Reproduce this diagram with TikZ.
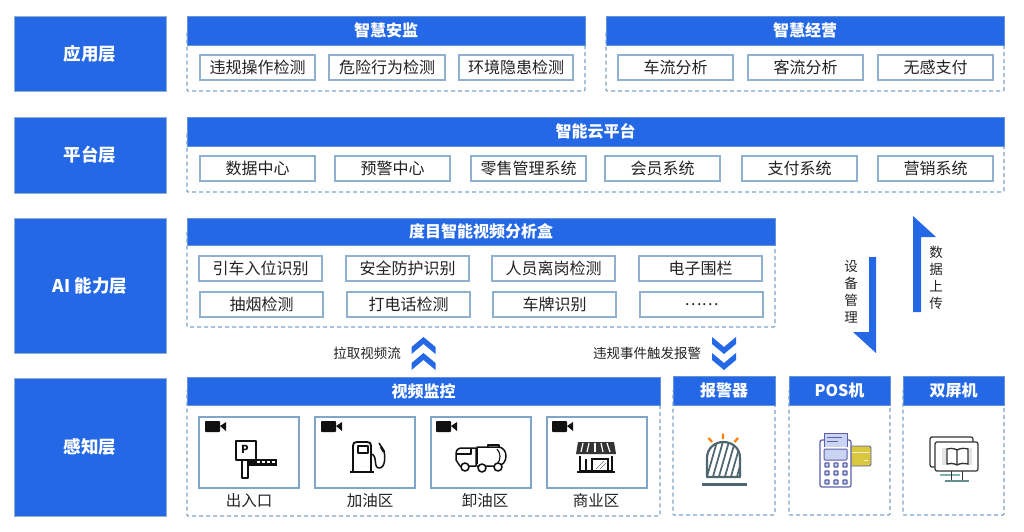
\documentclass[tikz,border=0pt]{standalone}
\usepackage{fontspec}
\setmainfont{Noto Sans CJK SC}
\definecolor{hdr}{HTML}{2468E6}
\definecolor{edge}{HTML}{8FB0CF}
\definecolor{dash}{HTML}{7BA3C8}
\definecolor{txt}{HTML}{222222}
\definecolor{ink}{HTML}{101010}
\definecolor{slate}{HTML}{4F6670}
\definecolor{posv}{HTML}{5A5FA8}
\definecolor{posf}{HTML}{C9D3F2}
\definecolor{cardy}{HTML}{D8C83E}
\definecolor{camedge}{HTML}{7FA5C8}
\tikzset{
  boxbase/.style={shape=rectangle,inner sep=0pt,outer sep=0pt},
  layerbox/.style={boxbase,fill=hdr,draw=edge,line width=.7pt,text=white,font=\fontsize{17.5}{20}\selectfont\bfseries},
  headbox/.style={boxbase,fill=hdr,draw=edge!60!hdr,line width=.5pt,text=white,font=\fontsize{16}{18}\selectfont\bfseries},
  panelbox/.style={boxbase,draw=dash,line width=1.2pt,dash pattern=on 4pt off 3pt,rounded corners=1pt},
  itembox/.style={boxbase,fill=white,draw=edge,line width=1.2pt,text=txt,font=\fontsize{16}{18}\selectfont},
  cambox/.style={boxbase,fill=white,draw=camedge,line width=1.1pt},
  caption/.style={text=txt,inner sep=0pt,font=\fontsize{15.5}{18}\selectfont},
  flowlabel/.style={text=txt,inner sep=0pt,font=\fontsize{13.5}{16}\selectfont},
  vlabel/.style={text=txt,inner sep=0pt,align=center,font=\fontsize{13.5}{17}\selectfont},
  icon/.style={draw=ink,line width=1.9pt,line join=round}
}
% #1 style, #2 name, #3 x1, #4 y1, #5 x2, #6 y2, #7 text
\newcommand\rbox[7]{%
  \pgfmathsetmacro\cxx{(#3+#5)/2}\pgfmathsetmacro\cyy{(#4+#6)/2}%
  \pgfmathsetmacro\ww{#5-#3}\pgfmathsetmacro\hh{#6-#4}%
  \node[#1,minimum width=\ww pt,minimum height=\hh pt] (#2) at (\cxx,\cyy) {#7};}
\newcommand\camicon[2]{%
  \fill[ink,rounded corners=.8pt] (#1,#2) rectangle ++(15,11);
  \fill[ink] (#1+15,#2+5) -- (#1+21,#2+1) -- (#1+21,#2+10) -- cycle;}
\newcommand\chevup[2]{\fill[hdr] (#1,#2+10) -- (#1+12,#2) -- (#1+24,#2+10) -- (#1+24,#2+17) -- (#1+12,#2+7) -- (#1,#2+17) -- cycle;}
\newcommand\chevdown[2]{\fill[hdr] (#1,#2) -- (#1+12,#2+10) -- (#1+24,#2) -- (#1+24,#2+7) -- (#1+12,#2+17) -- (#1,#2+7) -- cycle;}
\begin{document}
\begin{tikzpicture}[x=1pt,y=-1pt]
\useasboundingbox (0,0) rectangle (1024,532);
% left layers
\rbox{layerbox}{l1}{14}{16}{166}{91}{应用层}
\rbox{layerbox}{l2}{14}{117}{166}{193}{平台层}
\rbox{layerbox}{l3}{14}{218}{166}{353}{AI 能力层}
\rbox{layerbox}{l4}{14}{378}{166}{516}{感知层}
% application
\rbox{panelbox}{p1}{187}{30}{585}{91}{}
\rbox{headbox}{h1}{187}{16}{585}{45}{智慧安监}
\rbox{itembox}{a1}{200}{55}{315}{80}{违规操作检测}
\rbox{itembox}{a2}{329}{55}{445}{80}{危险行为检测}
\rbox{itembox}{a3}{459}{55}{573}{80}{环境隐患检测}
\rbox{panelbox}{p2}{606}{30}{1004}{91}{}
\rbox{headbox}{h2}{606}{16}{1004}{45}{智慧经营}
\rbox{itembox}{a4}{618}{55}{733}{80}{车流分析}
\rbox{itembox}{a5}{748}{55}{863}{80}{客流分析}
\rbox{itembox}{a6}{878}{55}{993}{80}{无感支付}
% platform
\rbox{panelbox}{p3}{187}{130}{1004}{192}{}
\rbox{headbox}{h3}{187}{117}{1004}{146}{智能云平台}
\rbox{itembox}{b1}{200}{156}{315}{181}{数据中心}
\rbox{itembox}{b2}{335}{156}{450}{181}{预警中心}
\rbox{itembox}{b3}{471}{156}{586}{181}{零售管理系统}
\rbox{itembox}{b4}{605}{156}{720}{181}{会员系统}
\rbox{itembox}{b5}{742}{156}{857}{181}{支付系统}
\rbox{itembox}{b6}{878}{156}{993}{181}{营销系统}
% AI
\rbox{panelbox}{p4}{187}{230}{775}{327}{}
\rbox{headbox}{h4}{187}{218}{775}{245}{度目智能视频分析盒}
\rbox{itembox}{c1}{199}{256}{322}{281}{引车入位识别}
\rbox{itembox}{c2}{346}{256}{469}{281}{安全防护识别}
\rbox{itembox}{c3}{492}{256}{615}{281}{人员离岗检测}
\rbox{itembox}{c4}{639}{256}{762}{281}{电子围栏}
\rbox{itembox}{c5}{200}{292}{323}{317}{抽烟检测}
\rbox{itembox}{c6}{347}{292}{470}{317}{打电话检测}
\rbox{itembox}{c7}{493}{292}{616}{317}{车牌识别}
\rbox{itembox}{c8}{640}{292}{763}{317}{……}
% flow labels and chevrons
\node[flowlabel] (f1) at (367,353) {拉取视频流};
\chevup{411.5}{337}\chevup{411.5}{353}
\node[flowlabel] (f2) at (647,353) {违规事件触发报警};
\chevdown{712}{337}\chevdown{712}{353}
% side arrows
\fill[hdr] (869,257) -- (876,257) -- (876,353) -- (853,332) -- (869,332) -- cycle;
\fill[hdr] (913,312) -- (921,312) -- (921,237) -- (936,237) -- (913,216) -- cycle;
\node[vlabel] (v1) at (851,292) {设\\备\\管\\理};
\node[vlabel] (v2) at (936,278) {数\\据\\上\\传};
% perception
\rbox{panelbox}{p5}{187}{390}{660}{516}{}
\rbox{headbox}{h5}{187}{377}{660}{405}{视频监控}
\rbox{cambox}{k1}{199}{417}{299}{488}{}
\rbox{cambox}{k2}{315}{417}{415}{488}{}
\rbox{cambox}{k3}{431}{417}{531}{488}{}
\rbox{cambox}{k4}{547}{417}{647}{488}{}
\camicon{205}{421}\camicon{321}{421}\camicon{436}{421}\camicon{552}{421}
\node[caption] (t1) at (249,501) {出入口};
\node[caption] (t2) at (370,501) {加油区};
\node[caption] (t3) at (485,501) {卸油区};
\node[caption] (t4) at (596,501) {商业区};
\rbox{panelbox}{p6}{673}{390}{775}{515}{}
\rbox{headbox}{h6}{673}{376}{775}{405}{报警器}
\rbox{panelbox}{p7}{789}{390}{890}{515}{}
\rbox{headbox}{h7}{789}{376}{890}{405}{POS机}
\rbox{panelbox}{p8}{903}{390}{1004}{515}{}
\rbox{headbox}{h8}{903}{376}{1004}{405}{双屏机}
% parking barrier
\draw[icon] (236,441) rectangle (256,460);
\draw[icon] (242,460) rectangle (248,478);
\node[inner sep=0pt,text=ink,font=\fontsize{11}{11}\selectfont\bfseries] (pk) at (245,449) {P};
\fill[ink] (248,459) rectangle (277,465.5);
\foreach \bx in {257,262,267,272}{\fill[white] (\bx,461) rectangle +(2.6,2.2);}
% fuel pump
\draw[icon] (353,472) -- (353,446) .. controls (353,443) and (354,442) .. (357,442) -- (367,442) .. controls (370,442) and (371,443) .. (371,446) -- (371,472);
\draw[icon] (350,472) -- (374,472);
\draw[icon,line width=1.5pt] (358,446) rectangle (368,453);
\draw[icon,line width=1.5pt] (371,454) .. controls (378,455) and (373,468) .. (379,468) .. controls (386,468) and (385,455) .. (384,451) -- (379,443);
\draw[icon,line width=2.4pt] (381,447) -- (384,452);
% tanker truck
\draw[icon,line width=1.5pt] (476,466) -- (460,466) -- (456,460) -- (456,454) .. controls (456,450) and (458,448) .. (462,448) -- (476,448) -- cycle;
\draw[icon,line width=1.4pt] (457,454) -- (471,454) -- (471,449);
\draw[icon,line width=1.5pt] (477,464) -- (477,447) -- (497,447) .. controls (509,446) and (509,466) .. (497,466) -- (477,466);
\draw[icon,line width=1.4pt] (488,447) -- (488,445) -- (499,445) -- (499,447);
\draw[icon,line width=1.1pt] (497,449) .. controls (501,453) and (501,460) .. (497,464);
\foreach \wx/\wy in {465/467,482/468,498/467}{\draw[icon,fill=white,line width=1.6pt] (\wx,\wy) circle (4);}
% shop
\draw[icon,line width=1.4pt] (580,456) -- (580,471) -- (612,471) -- (612,456);
\draw[icon,line width=2pt] (577,472) -- (615,472);
\fill[ink!85] (578,442) -- (614,442) -- (616,454) -- (576,454) -- cycle;
\foreach \sa/\sb in {583/581,589/587,595/595,601/603,607/610}{\draw[white,line width=1.2pt] (\sa,443) -- (\sb,452);}
\draw[ink,line width=1.1pt] (586,459) -- (586,471) (592,459) rectangle (608,471);
\draw[ink!60,line width=.6pt] (596,469) -- (604,461) (600,469) -- (606,463);
% alarm
\begin{scope}
\clip (707,477) -- (707,458) .. controls (707,448) and (715,442) .. (723.5,442) .. controls (732,442) and (740,448) .. (740,458) -- (740,477) -- cycle;
\foreach \hx in {700,706,...,756}{\draw[slate,line width=1.7pt] (\hx,480) -- (\hx+12,438);}
\end{scope}
\draw[slate,line width=2.2pt,line join=round] (707,477) -- (707,458) .. controls (707,448) and (715,442) .. (723.5,442) .. controls (732,442) and (740,448) .. (740,458) -- (740,477) -- cycle;
\draw[slate,line width=3pt] (702,484) -- (747,484);
\draw[orange,line width=2.3pt] (723,433.5) -- (723,439) (708.5,438) -- (712,442) (738,438) -- (734.5,442);
% POS
\draw[rounded corners=1.5pt,fill=cardy,draw=posv,line width=.9pt] (848,446) rectangle (871,466);
\draw[white!70!cardy,line width=.9pt] (851,452) -- (870,452) (864,460) -- (868,460);
\draw[posv,fill=white,line width=1.2pt,rounded corners=2pt] (820,440) rectangle (851,487);
\draw[posv,fill=posf,line width=1pt] (824,447) -- (824,433) -- (847,433) -- (847,447);
\draw[posv,line width=.7pt] (827,437) -- (842,437) (827,441) -- (838,441);
\draw[posv,fill=posf,line width=1pt,rounded corners=1pt] (824,449) rectangle (847,460);
\foreach \kx in {827,836,845}{\foreach \ky in {465,473,482}{\draw[posv,fill=posf,line width=1.1pt,rounded corners=.5pt] (\kx-2,\ky-2) rectangle (\kx+2,\ky+2);}}
% dual screen
\definecolor{scr}{HTML}{333333}\definecolor{tealb}{HTML}{7FB3B0}
\draw[scr,fill=white,line width=1.2pt,rounded corners=2pt] (930,437) rectangle (973,467);
\draw[tealb,line width=2pt] (940,475) -- (960,475);
\draw[scr,fill=white,line width=1.2pt,rounded corners=2pt] (935,442) rectangle (978,471);
\fill[black!10] (942,448) rectangle (972,465);
\draw[scr,line width=1pt] (951,471) -- (951,480) (962,471) -- (962,480);
\draw[tealb!80!black,line width=2.2pt] (945,481) -- (969,481);
\draw[scr,fill=white,line width=1.3pt] (957,450) .. controls (953,448) and (950,448) .. (947,449) -- (947,464) .. controls (950,463) and (953,463) .. (957,465) .. controls (961,463) and (964,463) .. (968,464) -- (968,449) .. controls (964,448) and (961,448) .. (957,450) -- (957,465);
\end{tikzpicture}
\end{document}
